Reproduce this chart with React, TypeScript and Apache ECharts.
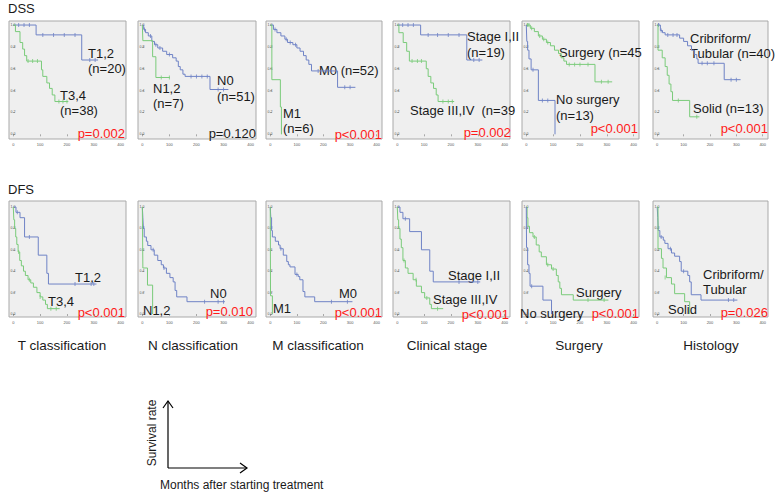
import React, { useEffect, useRef } from "react";
import * as echarts from "echarts";

const BLUE = "#6f83c6";
const GREEN = "#7acb7a";
const FONT = "'Liberation Sans', Arial, sans-serif";

const rowTitles = ["DSS", "DFS"];
const columnTitles = ["T classification", "N classification", "M classification", "Clinical stage", "Surgery", "Histology"];
const xTicks = [0, 100, 200, 300, 400];
const yTicks = [0, 0.2, 0.4, 0.6, 0.8, 1.0];

// ---------- DSS curves [months, survival] ----------
const dssT12 = [[0, 1], [85, 0.91], [255, 0.68], [316, 0.68]];
const dssT12Cens = [[20, 1], [40, 1], [60, 1], [110, 0.91], [150, 0.91], [190, 0.91], [230, 0.91], [285, 0.68], [305, 0.68]];
const dssT34 = [[0, 1], [8, 0.94], [25, 0.84], [35, 0.78], [42, 0.72], [50, 0.67], [105, 0.59], [110, 0.53], [125, 0.47], [135, 0.42], [145, 0.36], [155, 0.30], [205, 0.30]];
const dssT34Cens = [[55, 0.67], [72, 0.67], [90, 0.67], [170, 0.30], [185, 0.30], [200, 0.30]];

const dssN0 = [[0, 1], [5, 0.96], [12, 0.93], [22, 0.90], [35, 0.85], [45, 0.82], [57, 0.79], [75, 0.76], [90, 0.73], [112, 0.70], [125, 0.67], [133, 0.62], [140, 0.59], [150, 0.55], [158, 0.53], [250, 0.41], [318, 0.41]];
const dssN0Cens = [[8, 0.96], [30, 0.90], [50, 0.82], [65, 0.79], [100, 0.73], [180, 0.53], [200, 0.53], [220, 0.53], [240, 0.53], [280, 0.41], [300, 0.41]];
const dssN12 = [[0, 1], [2, 0.857], [38, 0.71], [50, 0.52], [102, 0.52]];
const dssN12Cens = [[70, 0.52], [100, 0.52]];

const dssM0 = [[0, 1], [12, 0.96], [25, 0.93], [40, 0.90], [55, 0.87], [65, 0.84], [85, 0.82], [100, 0.79], [112, 0.76], [125, 0.72], [135, 0.68], [145, 0.64], [155, 0.58], [253, 0.43], [320, 0.43]];
const dssM0Cens = [[18, 0.96], [60, 0.87], [75, 0.84], [95, 0.82], [180, 0.58], [210, 0.58], [230, 0.58], [280, 0.43], [300, 0.43]];
const dssM1 = [[0, 1], [6, 0.5], [38, 0.25], [42, 0]];
const dssM1Cens: number[][] = [];

const dssS12 = [[0, 1], [87, 0.91], [259, 0.68], [317, 0.68]];
const dssS12Cens = [[20, 1], [40, 1], [60, 1], [115, 0.91], [150, 0.91], [190, 0.91], [230, 0.91], [285, 0.68], [305, 0.68]];
const dssS34 = [[0, 1], [6, 0.93], [22, 0.84], [35, 0.76], [45, 0.67], [108, 0.60], [115, 0.53], [125, 0.47], [135, 0.42], [145, 0.36], [152, 0.30], [212, 0.30]];
const dssS34Cens = [[55, 0.67], [75, 0.67], [90, 0.67], [170, 0.30], [190, 0.30], [205, 0.30]];

const dssSurg = [[0, 1], [15, 0.97], [30, 0.94], [45, 0.90], [60, 0.87], [75, 0.84], [90, 0.81], [105, 0.77], [120, 0.74], [130, 0.70], [140, 0.67], [150, 0.64], [256, 0.48], [320, 0.48]];
const dssSurgCens = [[5, 1], [10, 1], [20, 0.97], [50, 0.90], [65, 0.87], [80, 0.84], [160, 0.64], [180, 0.64], [200, 0.64], [230, 0.64], [280, 0.48], [305, 0.48]];
const dssNoSurg = [[0, 1], [2, 0.85], [5, 0.77], [10, 0.69], [18, 0.59], [45, 0.31], [107, 0]];
const dssNoSurgCens = [[25, 0.59], [60, 0.31], [80, 0.31]];

const dssCrib = [[0, 1], [12, 0.95], [20, 0.93], [30, 0.91], [85, 0.88], [100, 0.85], [115, 0.81], [130, 0.77], [140, 0.73], [150, 0.69], [155, 0.65], [254, 0.50], [316, 0.50]];
const dssCribCens = [[5, 1], [15, 0.95], [40, 0.91], [60, 0.91], [75, 0.91], [170, 0.65], [190, 0.65], [215, 0.65], [280, 0.50], [300, 0.50]];
const dssSolid = [[0, 1], [3, 0.77], [19, 0.70], [30, 0.62], [38, 0.54], [45, 0.46], [52, 0.39], [58, 0.31], [123, 0.16], [160, 0.16]];
const dssSolidCens = [[80, 0.31], [150, 0.16]];

// ---------- DFS curves ----------
const dfsT12 = [[0, 1], [10, 0.95], [25, 0.90], [42, 0.72], [93, 0.55], [125, 0.38], [131, 0.28], [310, 0.28]];
const dfsT12Cens = [[15, 0.95], [60, 0.72], [230, 0.28], [290, 0.28], [300, 0.28]];
const dfsT34 = [[0, 1], [2, 0.88], [5, 0.80], [9, 0.72], [13, 0.65], [18, 0.58], [24, 0.50], [30, 0.45], [38, 0.40], [45, 0.36], [55, 0.32], [65, 0.29], [75, 0.25], [88, 0.20], [100, 0.16], [110, 0.13], [120, 0.09], [127, 0.05], [173, 0.05]];
const dfsT34Cens = [[20, 0.58], [60, 0.32], [100, 0.16], [140, 0.05], [160, 0.05]];

const dfsN0 = [[0, 1], [2, 0.9], [4, 0.8], [7, 0.72], [15, 0.68], [20, 0.64], [32, 0.60], [44, 0.55], [57, 0.50], [70, 0.46], [78, 0.43], [89, 0.38], [102, 0.34], [114, 0.30], [121, 0.22], [127, 0.16], [165, 0.115], [305, 0.115]];
const dfsN0Cens = [[40, 0.60], [80, 0.43], [230, 0.115], [280, 0.115], [300, 0.115]];
const dfsN12 = [[0, 1], [2, 0.43], [19, 0.27], [38, 0]];
const dfsN12Cens: number[][] = [];

const dfsM0 = [[0, 1], [2, 0.9], [5, 0.78], [8, 0.72], [19, 0.68], [31, 0.645], [37, 0.61], [49, 0.55], [62, 0.49], [68, 0.46], [74, 0.44], [93, 0.37], [105, 0.35], [111, 0.32], [123, 0.21], [130, 0.16], [167, 0.115], [309, 0.115]];
const dfsM0Cens = [[40, 0.61], [100, 0.37], [230, 0.115], [290, 0.115]];
const dfsM1 = [[0, 1], [1, 0.17], [8, 0]];
const dfsM1Cens: number[][] = [];

const dfsS12 = [[0, 1], [10, 0.95], [21, 0.89], [46, 0.77], [90, 0.60], [121, 0.40], [134, 0.30], [309, 0.30]];
const dfsS12Cens = [[30, 0.89], [230, 0.30], [300, 0.30]];
const dfsS34 = [[0, 1], [2, 0.88], [5, 0.80], [10, 0.70], [15, 0.62], [21, 0.50], [30, 0.43], [40, 0.38], [59, 0.32], [71, 0.26], [90, 0.20], [102, 0.15], [121, 0.09], [127, 0.05], [171, 0.05]];
const dfsS34Cens = [[25, 0.50], [70, 0.32], [110, 0.15], [150, 0.05]];

const dfsSurg = [[0, 1], [3, 0.9], [6, 0.82], [12, 0.76], [25, 0.72], [37, 0.645], [48, 0.58], [56, 0.535], [75, 0.46], [94, 0.42], [112, 0.36], [119, 0.30], [125, 0.24], [131, 0.18], [175, 0.13], [306, 0.13]];
const dfsSurgCens = [[30, 0.72], [80, 0.46], [100, 0.42], [230, 0.13], [290, 0.13]];
const dfsNoSurg = [[0, 1], [1, 0.62], [5, 0.46], [10, 0.38], [14, 0.26], [62, 0.13], [94, 0]];
const dfsNoSurgCens = [[20, 0.26]];

const dfsCrib = [[0, 1], [2, 0.9], [4, 0.78], [10, 0.72], [23, 0.69], [29, 0.66], [41, 0.61], [54, 0.57], [66, 0.54], [85, 0.49], [91, 0.40], [116, 0.36], [123, 0.30], [129, 0.18], [166, 0.13], [304, 0.13]];
const dfsCribCens = [[15, 0.72], [50, 0.61], [100, 0.40], [270, 0.13], [290, 0.13]];
const dfsSolid = [[0, 1], [3, 0.61], [16, 0.52], [22, 0.43], [35, 0.34], [54, 0.28], [66, 0.19], [104, 0.115], [123, 0]];
const dfsSolidCens = [[30, 0.34]];

const pValues = [
  ["p=0.002", "p=0.120", "p<0.001", "p=0.002", "p<0.001", "p<0.001"],
  ["p<0.001", "p=0.010", "p<0.001", "p<0.001", "p<0.001", "p=0.026"],
];
const pNumbers = [
  [0.002, 0.12, 0.001, 0.002, 0.001, 0.001],
  [0.001, 0.01, 0.001, 0.001, 0.001, 0.026],
];

// panels: [ [curve, censors, colour], ... ]
const panelCurves: [number[][], number[][], string][][] = [
  [[dssT12, dssT12Cens, BLUE], [dssT34, dssT34Cens, GREEN]],
  [[dssN0, dssN0Cens, BLUE], [dssN12, dssN12Cens, GREEN]],
  [[dssM0, dssM0Cens, BLUE], [dssM1, dssM1Cens, GREEN]],
  [[dssS12, dssS12Cens, BLUE], [dssS34, dssS34Cens, GREEN]],
  [[dssSurg, dssSurgCens, GREEN], [dssNoSurg, dssNoSurgCens, BLUE]],
  [[dssCrib, dssCribCens, BLUE], [dssSolid, dssSolidCens, GREEN]],
  [[dfsT12, dfsT12Cens, BLUE], [dfsT34, dfsT34Cens, GREEN]],
  [[dfsN0, dfsN0Cens, BLUE], [dfsN12, dfsN12Cens, GREEN]],
  [[dfsM0, dfsM0Cens, BLUE], [dfsM1, dfsM1Cens, GREEN]],
  [[dfsS12, dfsS12Cens, BLUE], [dfsS34, dfsS34Cens, GREEN]],
  [[dfsSurg, dfsSurgCens, GREEN], [dfsNoSurg, dfsNoSurgCens, BLUE]],
  [[dfsCrib, dfsCribCens, BLUE], [dfsSolid, dfsSolidCens, GREEN]],
];

// curve labels (text, left x, centre y)
const curveLabels: [string, number, number][] = [
  ["T1,2", 88, 53], ["(n=20)", 88, 68], ["T3,4", 60, 95], ["(n=38)", 60, 110],
  ["N0", 217, 80], ["(n=51)", 217, 96], ["N1,2", 153, 88], ["(n=7)", 153, 103],
  ["M0 (n=52)", 319, 70], ["M1", 283, 113], ["(n=6)", 283, 128],
  ["Stage I,II", 467, 36], ["(n=19)", 467, 52], ["Stage III,IV  (n=39", 410, 110],
  ["Surgery (n=45", 559, 52], ["No surgery", 556, 99], ["(n=13)", 556, 115],
  ["Cribriform/", 690, 38], ["Tubular (n=40)", 690, 53], ["Solid (n=13)", 693, 108],
  ["T1,2", 75, 277], ["T3,4", 48, 301],
  ["N0", 210, 293], ["N1,2", 143, 310],
  ["M0", 339, 293], ["M1", 273, 308],
  ["Stage I,II", 448, 275], ["Stage III,IV", 433, 299],
  ["Surgery", 576, 292], ["No surgery", 520, 313],
  ["Cribriform/", 703, 274], ["Tubular", 703, 289], ["Solid", 668, 309],
];

// layout
const COL_LEFT = [9, 138, 266, 393, 522, 653];
const COL_W = [117, 118, 116, 117, 117, 115];
const ROW_TOP = [21, 201];
const ROW_H = [118, 116];
const Y_RANGE = [[-0.043, 1.037], [-0.028, 1.056]];
const X_RANGE = [-16, 420];
const P_POS = [
  [[125, 133], [256, 133], [382, 134], [511, 132], [638, 128], [768, 128]],
  [[125, 312], [253, 311], [382, 312], [509, 314], [639, 313], [768, 312]],
];
const COL_TITLE_X = [62, 193, 318, 447, 579, 711];

export default function App() {
  const ref = useRef<HTMLDivElement>(null);
  useEffect(() => {
    if (!ref.current) return;
    const chart = echarts.init(ref.current, null, { renderer: "svg" });
    const grid: any[] = [];
    const xAxis: any[] = [];
    const yAxis: any[] = [];
    const series: any[] = [];
    const graphic: any[] = [];

    for (let r = 0; r < 2; r++) {
      for (let c = 0; c < 6; c++) {
        const k = r * 6 + c;
        grid.push({
          left: COL_LEFT[c], top: ROW_TOP[r], width: COL_W[c], height: ROW_H[r],
          show: true, backgroundColor: "#efefef", borderColor: "#a9a9a9", borderWidth: 1,
        });
        xAxis.push({
          type: "value", gridIndex: k, min: X_RANGE[0], max: X_RANGE[1],
          axisLine: { show: false }, splitLine: { show: false },
          axisTick: { show: true, customValues: xTicks, length: 2, lineStyle: { color: "#777", width: 0.6 } },
          axisLabel: { customValues: xTicks, fontSize: 4, color: "#555", margin: 3, fontFamily: FONT },
        });
        yAxis.push({
          type: "value", gridIndex: k, min: Y_RANGE[r][0], max: Y_RANGE[r][1],
          axisLine: { show: false }, splitLine: { show: false },
          axisTick: { show: true, inside: true, customValues: yTicks, length: 1.5, lineStyle: { color: "#777", width: 0.6 } },
          axisLabel: {
            customValues: yTicks, inside: true, fontSize: 3.5, color: "#555", margin: 1.5, fontFamily: FONT,
            formatter: (v: number) => v.toFixed(1),
          },
        });
        for (const [curve, cens, color] of panelCurves[k]) {
          series.push({
            type: "line", xAxisIndex: k, yAxisIndex: k, step: "end", data: curve,
            showSymbol: false, symbol: "none", lineStyle: { color, width: 1 }, silent: true,
          });
          series.push({
            type: "scatter", xAxisIndex: k, yAxisIndex: k, data: cens,
            symbol: "rect", symbolSize: [1, 4], itemStyle: { color }, silent: true,
          });
        }
        const [px, py] = P_POS[r][c];
        graphic.push({
          type: "text", x: px, y: py, silent: true,
          style: {
            text: pValues[r][c], fill: pNumbers[r][c] < 0.05 ? "#ff1a1a" : "#1a1a1a",
            font: `13px ${FONT}`, textAlign: "right", textVerticalAlign: "middle",
          },
        });
      }
    }

    for (const [t, x, y] of curveLabels) {
      graphic.push({
        type: "text", x, y, silent: true,
        style: { text: t, fill: "#1a1a1a", font: `13px ${FONT}`, textAlign: "left", textVerticalAlign: "middle" },
      });
    }
    graphic.push({ type: "text", x: 8, y: 8, style: { text: rowTitles[0], fill: "#1a1a1a", font: `13px ${FONT}`, textAlign: "left", textVerticalAlign: "middle" } });
    graphic.push({ type: "text", x: 8, y: 189, style: { text: rowTitles[1], fill: "#1a1a1a", font: `13px ${FONT}`, textAlign: "left", textVerticalAlign: "middle" } });
    columnTitles.forEach((t, i) => {
      graphic.push({
        type: "text", x: COL_TITLE_X[i], y: 345,
        style: { text: t, fill: "#1a1a1a", font: `13.5px ${FONT}`, textAlign: "center", textVerticalAlign: "middle" },
      });
    });

    // axes diagram
    const ls = { stroke: "#000", lineWidth: 1.2, fill: null };
    graphic.push({ type: "line", shape: { x1: 168, y1: 401, x2: 168, y2: 468 }, style: ls });
    graphic.push({ type: "line", shape: { x1: 168, y1: 468, x2: 247, y2: 468 }, style: ls });
    graphic.push({ type: "polyline", shape: { points: [[163, 408], [168, 401], [173, 408]] }, style: ls });
    graphic.push({ type: "polyline", shape: { points: [[240, 463], [247, 468], [240, 473]] }, style: ls });
    graphic.push({
      type: "text", x: 152, y: 433, rotation: Math.PI / 2,
      style: { text: "Survival rate", fill: "#1a1a1a", font: `12px ${FONT}`, textAlign: "center", textVerticalAlign: "middle" },
    });
    graphic.push({
      type: "text", x: 160, y: 485,
      style: { text: "Months after starting treatment", fill: "#1a1a1a", font: `12px ${FONT}`, textAlign: "left", textVerticalAlign: "middle" },
    });

    chart.setOption({
      animation: false,
      backgroundColor: "#ffffff",
      grid, xAxis, yAxis, series, graphic,
    });
    return () => chart.dispose();
  }, []);
  return (
    <div
      ref={ref}
      style={{ position: "fixed", left: 0, top: 0, width: 778, height: 493, background: "#fff" }}
    />
  );
}
